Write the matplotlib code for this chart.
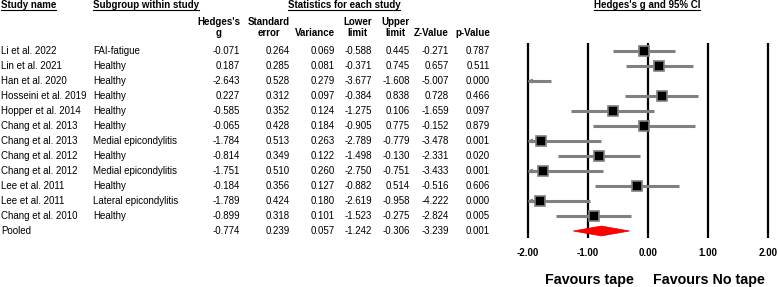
import numpy as np
import matplotlib
matplotlib.use("Agg")
import matplotlib.pyplot as plt
from matplotlib.transforms import blended_transform_factory

plt.rcParams['font.family'] = ['Liberation Sans', 'DejaVu Sans']

# === DATA ===
studies = ["Li et al. 2022", "Lin et al. 2021", "Han et al. 2020", "Hosseini et al. 2019",
           "Hopper et al. 2014", "Chang et al. 2013", "Chang et al. 2013", "Chang et al. 2012",
           "Chang et al. 2012", "Lee et al. 2011", "Lee et al. 2011", "Chang et al. 2010"]
subgroups = ["FAI-fatigue", "Healthy", "Healthy", "Healthy", "Healthy", "Healthy",
             "Medial epicondylitis", "Healthy", "Medial epicondylitis", "Healthy",
             "Lateral epicondylitis", "Healthy"]
hedges_g = [-0.071, 0.187, -2.643, 0.227, -0.585, -0.065, -1.784, -0.814, -1.751, -0.184, -1.789, -0.899]
std_err = [0.264, 0.285, 0.528, 0.312, 0.352, 0.428, 0.513, 0.349, 0.510, 0.356, 0.424, 0.318]
variance = [0.069, 0.081, 0.279, 0.097, 0.124, 0.184, 0.263, 0.122, 0.260, 0.127, 0.180, 0.101]
lower = [-0.588, -0.371, -3.677, -0.384, -1.275, -0.905, -2.789, -1.498, -2.750, -0.882, -2.619, -1.523]
upper = [0.445, 0.745, -1.608, 0.838, 0.106, 0.775, -0.779, -0.130, -0.751, 0.514, -0.958, -0.275]
z_val = [-0.271, 0.657, -5.007, 0.728, -1.659, -0.152, -3.478, -2.331, -3.433, -0.516, -4.222, -2.824]
p_val = [0.787, 0.511, 0.000, 0.466, 0.097, 0.879, 0.001, 0.020, 0.001, 0.606, 0.000, 0.005]
pooled = dict(g=-0.774, se=0.239, var=0.057, lo=-1.242, hi=-0.306, z=-3.239, p=0.001)
ticks = [-2, -1, 0, 1, 2]

GRAY = '#808080'
FS = 7


def re_weights(var, g):
    # random-effects (DerSimonian-Laird) weights, used for square size
    var = np.array(var)
    g = np.array(g)
    w = 1 / var
    gf = np.sum(w * g) / np.sum(w)
    q = np.sum(w * (g - gf) ** 2)
    c = np.sum(w) - np.sum(w ** 2) / np.sum(w)
    tau2 = max(0.0, (q - (len(g) - 1)) / c)
    return 1 / (var + tau2)


fig = plt.figure(figsize=(7.78, 2.87), dpi=100)
tax = fig.add_axes([0, 0, 1, 1])
tax.set_xlim(0, 778)
tax.set_ylim(287, 0)
tax.axis('off')

n = len(studies)
ax = fig.add_axes([518.5 / 778, (287 - 238) / 287, 259 / 778, 195 / 287])
ax.patch.set_alpha(0)
ax.set_xlim(-2.15, 2.15)
ax.set_ylim(n + 0.467, -0.533)
for s in ax.spines.values():
    s.set_visible(False)
ax.set_yticks([])
ax.set_xticks(ticks)
ax.set_xticklabels([f"{t:.2f}" for t in ticks], fontsize=FS, fontweight='bold')
ax.tick_params(axis='x', length=0, pad=7)
for t in ticks:
    ax.axvline(t, color='black', lw=1.6, zorder=1)

wr = re_weights(variance, hedges_g)
sides = 7.6 * np.sqrt(wr / wr.max())

for i in range(n):
    lo = max(lower[i], -2)
    ax.plot([lo, upper[i]], [i, i], color=GRAY, lw=2.2, solid_capstyle='butt', zorder=2)
    if lower[i] < -2:
        # small open arrowhead where the interval runs off the scale
        ax.annotate('', xy=(-2, i), xytext=(-1.9, i),
                    arrowprops=dict(arrowstyle='->', color=GRAY, lw=1.0,
                                    shrinkA=0, shrinkB=0, mutation_scale=6), zorder=2)
    if hedges_g[i] >= -2:
        ax.plot(hedges_g[i], i, marker='s', ms=sides[i], mfc='black', mec=GRAY, mew=1.2, zorder=3)

ax.fill([pooled['lo'], pooled['g'], pooled['hi'], pooled['g']],
        [n, n - 0.33, n, n + 0.33], color='#ff0000', ec='#e00000', lw=0.5, zorder=3)

# table text
tr = blended_transform_factory(tax.transData, ax.transData)
col_right = [240, 290, 335, 372, 410, 449, 490]
fmt = ["{:.3f}"] * 7
rows = [[hedges_g[i], std_err[i], variance[i], lower[i], upper[i], z_val[i], p_val[i]] for i in range(n)]
rows.append([pooled['g'], pooled['se'], pooled['var'], pooled['lo'], pooled['hi'], pooled['z'], pooled['p']])
names = studies + ["Pooled"]
subs = subgroups + [""]
for i in range(n + 1):
    tax.text(1, i, names[i], transform=tr, ha='left', va='center', fontsize=FS)
    tax.text(93, i, subs[i], transform=tr, ha='left', va='center', fontsize=FS)
    for x, f, v in zip(col_right, fmt, rows[i]):
        tax.text(x, i, f.format(v), transform=tr, ha='right', va='center', fontsize=FS)

col_heads = ["Hedges's\ng", "Standard\nerror", "Variance", "Lower\nlimit", "Upper\nlimit", "Z-Value", "p-Value"]
for x, h in zip(col_right, col_heads):
    tax.text(x, 37.5, h, ha='right', va='bottom', ma='center', fontsize=FS,
             fontweight='bold', linespacing=1.05)

heads = [
    tax.text(1, 5, "Study name", ha='left', va='center', fontsize=FS, fontweight='bold'),
    tax.text(93, 5, "Subgroup within study", ha='left', va='center', fontsize=FS, fontweight='bold'),
    tax.text(344, 5, "Statistics for each study", ha='center', va='center', fontsize=FS, fontweight='bold'),
    tax.text(647, 5, "Hedges's g and 95% CI", ha='center', va='center', fontsize=FS, fontweight='bold'),
]

tax.text(589, 280, "Favours tape", ha='center', va='center', fontsize=10.3, fontweight='bold')
tax.text(709, 280, "Favours No tape", ha='center', va='center', fontsize=10.3, fontweight='bold')

# underline the group headers
fig.canvas.draw()
renderer = fig.canvas.get_renderer()
inv = tax.transData.inverted()
for t in heads:
    bb = t.get_window_extent(renderer)
    (x0, y0), (x1, y1) = inv.transform([[bb.x0, bb.y0], [bb.x1, bb.y1]])
    tax.plot([x0, x1], [10.2, 10.2], color='black', lw=0.8)

fig.savefig("out.png", dpi=100)
